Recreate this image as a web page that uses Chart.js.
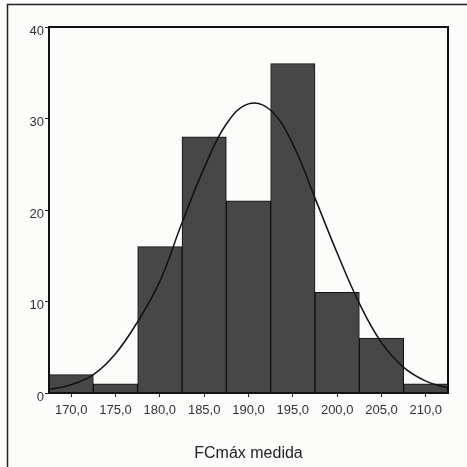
<!DOCTYPE html>
<html>
<head>
<meta charset="utf-8">
<script src="https://cdn.jsdelivr.net/npm/chart.js@4"></script>
<style>
  html, body { margin: 0; padding: 0; background: #fcfcfa; }
  #wrap { width: 467px; height: 467px; }
</style>
</head>
<body>
<div id="wrap"><canvas id="c" width="467" height="467"></canvas></div>
<script>
// Histogram bins (bin centres) and counts
const binCenters = [170, 175, 180, 185, 190, 195, 200, 205, 210];
const binCounts  = [2, 1, 16, 28, 21, 36, 11, 6, 1];

// Fitted normal curve
const curveX = [167.5, 170, 172.5, 175, 177.5, 180, 182.5, 185, 187.5, 190, 192.5, 195, 197.5, 200, 202.5, 205, 207.5, 210, 212.5];
const curveY = [0.4, 0.9, 2.0, 4.3, 7.8, 12.2, 18.6, 24.6, 29.4, 31.6, 30.9, 27.2, 21.3, 15.3, 9.8, 5.5, 2.8, 1.3, 0.55];

// Axis ticks
const xTickValues = [170, 175, 180, 185, 190, 195, 200, 205, 210];
const yTickValues = [0, 10, 20, 30, 40];
const xTitle = 'FCmáx medida';

const framePlugin = {
  id: 'frames',
  beforeDraw(chart) {
    const ctx = chart.ctx;
    ctx.save();
    ctx.fillStyle = '#fcfcfa';
    ctx.fillRect(0, 0, chart.width, chart.height);
    ctx.strokeStyle = '#222';
    ctx.lineWidth = 1.5;
    ctx.beginPath();
    ctx.moveTo(7.5, chart.height + 2);
    ctx.lineTo(7.5, 4.5);
    ctx.lineTo(chart.width + 2, 4.5);
    ctx.stroke();
    ctx.restore();
  },
  afterDatasetsDraw(chart) {
    const {ctx, chartArea: a} = chart;
    ctx.save();
    ctx.strokeStyle = '#111';
    ctx.lineWidth = 2;
    ctx.strokeRect(a.left, a.top, a.right - a.left, a.bottom - a.top);
    ctx.restore();
  }
};

new Chart(document.getElementById('c'), {
  type: 'bar',
  data: {
    datasets: [
      {
        type: 'line',
        data: curveX.map((x, i) => ({x: x, y: curveY[i]})),
        borderColor: '#111',
        borderWidth: 1.5,
        pointRadius: 0,
        tension: 0.4,
        fill: false,
        order: 0
      },
      {
        type: 'bar',
        data: binCenters.map((x, i) => ({x: x, y: binCounts[i]})),
        backgroundColor: '#474747',
        borderColor: '#111',
        borderWidth: 1,
        barPercentage: 1.0,
        categoryPercentage: 1.0,
        order: 1
      }
    ]
  },
  options: {
    responsive: false,
    animation: false,
    devicePixelRatio: 1,
    layout: { padding: { top: 27, right: 19, left: 0, bottom: 0 } },
    plugins: { legend: { display: false }, tooltip: { enabled: false } },
    scales: {
      x: {
        type: 'linear',
        min: 167.5,
        max: 212.5,
        offset: false,
        afterFit(s) { s.height = 74; },
        afterBuildTicks(s) { s.ticks = xTickValues.map(v => ({value: v})); },
        grid: { display: true, drawOnChartArea: false, offset: false, tickLength: 4, color: '#222', tickWidth: 1 },
        border: { display: false },
        ticks: {
          padding: 6,
          color: '#333',
          font: { family: 'Liberation Sans, Arial, sans-serif', size: 13 },
          maxRotation: 0,
          autoSkip: false,
          callback: v => v.toFixed(1).replace('.', ',')
        },
        title: {
          display: true,
          text: xTitle,
          color: '#222',
          font: { family: 'Liberation Sans, Arial, sans-serif', size: 16 },
          padding: { top: 0, bottom: 4 }
        }
      },
      y: {
        min: 0,
        max: 40,
        afterFit(s) { s.width = 49; },
        afterBuildTicks(s) { s.ticks = yTickValues.map(v => ({value: v})); },
        grid: { display: true, drawOnChartArea: false, tickLength: 4, color: '#222', tickWidth: 1 },
        border: { display: false },
        ticks: {
          padding: 1,
          labelOffset: 4,
          color: '#333',
          font: { family: 'Liberation Sans, Arial, sans-serif', size: 13 }
        }
      }
    }
  },
  plugins: [framePlugin]
});
</script>
</body>
</html>
